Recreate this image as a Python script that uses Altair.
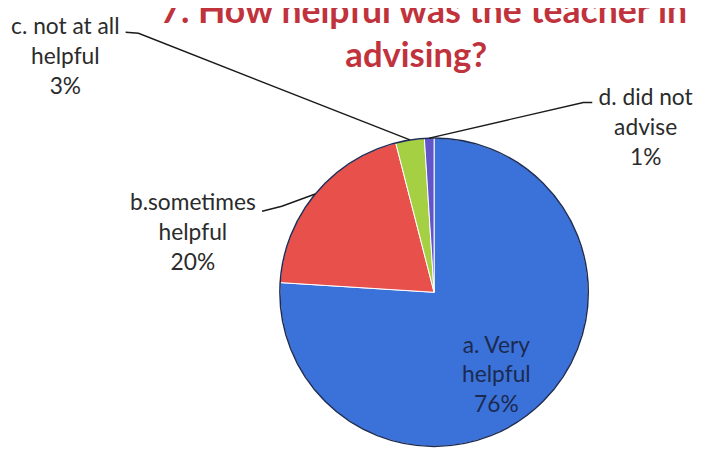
import altair as alt
import numpy as np
import pandas as pd

# ---- data ----
categories = ["a. Very helpful", "b.sometimes helpful", "c. not at all helpful", "d. did not advise"]
label_line1 = ["a. Very", "b.sometimes", "c. not at all", "d. did not"]
label_line2 = ["helpful", "helpful", "helpful", "advise"]
values = [76, 20, 3, 1]
colors = ["#3b72da", "#e8504c", "#a6d043", "#6254c9"]
title_lines = ["7. How helpful was the teacher in", "advising?"]

# ---- layout (chart pixel coordinates) ----
W, H = 701, 444
CX, CY, R = 431, 285, 156
label_pos = {  # centre of the first line of each label
    0: (494, 339),
    1: (187, 195),
    2: (58, 17),
    3: (645, 89),
}
leader_pts = {  # label-side start and elbow of each leader line
    1: [(257, 203), (277, 198)],
    2: [(119, 22), (132, 23)],
    3: [(591, 93), (582, 93)],
}
FONT = "Lato"

# ---- pie ----
pie_df = pd.DataFrame({"cat": categories, "value": values, "idx": list(range(len(values)))})

pie = alt.Chart(pie_df).mark_arc(outerRadius=R, stroke="white", strokeWidth=1).encode(
    theta=alt.Theta("value:Q", stack=True),
    color=alt.Color("cat:N", scale=alt.Scale(domain=categories, range=colors), legend=None),
    order=alt.Order("idx:Q"),
    x=alt.value(CX),
    y=alt.value(CY),
)

outline = alt.Chart(pd.DataFrame({"k": [0]})).mark_arc(
    outerRadius=R, theta=0, theta2=2 * np.pi, fillOpacity=0,
    stroke="#1f2d55", strokeWidth=1.5,
).encode(x=alt.value(CX), y=alt.value(CY))

# ---- leader lines: anchor on the pie edge derived from the data ----
vals = np.array(values, dtype=float)
cum = np.cumsum(vals)
mid = (cum - vals / 2) / vals.sum() * 2 * np.pi
rows = []
for i, pts in leader_pts.items():
    ax = CX + R * np.sin(mid[i])
    ay = CY - R * np.cos(mid[i])
    seq = pts + [(ax, ay)]
    for k, (px, py) in enumerate(seq):
        rows.append({"cat": categories[i], "seq": k, "px": px, "py": py})
lead_df = pd.DataFrame(rows)

leaders = alt.Chart(lead_df).mark_line(color="#1a1a1a", strokeWidth=1.4).encode(
    x=alt.X("px:Q", scale=None, axis=None),
    y=alt.Y("py:Q", scale=None, axis=None),
    detail="cat:N",
    order="seq:Q",
)

# ---- labels ----
lab_df = pd.DataFrame({
    "txt": [f"{a}\n{b}\n{v}%" for a, b, v in zip(label_line1, label_line2, values)],
    "lx": [label_pos[i][0] for i in range(len(values))],
    "ly": [label_pos[i][1] for i in range(len(values))],
    "inside": [True, False, False, False],
})

labels_out = alt.Chart(lab_df).transform_filter("!datum.inside").mark_text(
    lineBreak="\n", font=FONT, fontSize=23, lineHeight=30, color="#2b2b2b",
    align="center", baseline="middle",
).encode(
    x=alt.X("lx:Q", scale=None, axis=None),
    y=alt.Y("ly:Q", scale=None, axis=None),
    text="txt:N",
)

labels_in = alt.Chart(lab_df).transform_filter("datum.inside").mark_text(
    lineBreak="\n", font=FONT, fontSize=23, lineHeight=30, color="#1b2a50",
    align="center", baseline="middle",
).encode(
    x=alt.X("lx:Q", scale=None, axis=None),
    y=alt.Y("ly:Q", scale=None, axis=None),
    text="txt:N",
)

# ---- title ----
t1 = alt.Chart(pd.DataFrame({"k": [0]})).mark_text(
    text=title_lines[0], font=FONT, fontSize=36, fontWeight="bold", color="#c0323c",
    align="left", baseline="alphabetic",
).encode(x=alt.value(154), y=alt.value(13))

t2 = alt.Chart(pd.DataFrame({"k": [0]})).mark_text(
    text=title_lines[1], font=FONT, fontSize=35, fontWeight="bold", color="#c0323c",
    align="center", baseline="alphabetic",
).encode(x=alt.value(413), y=alt.value(57))

chart = alt.layer(pie, outline, leaders, labels_out, labels_in, t1, t2).properties(
    width=W, height=H, autosize=alt.AutoSizeParams(type="none"), padding=0,
    background="white",
).configure_view(strokeWidth=0)

chart.save("out.html", embed_options={"renderer": "svg", "actions": False})
